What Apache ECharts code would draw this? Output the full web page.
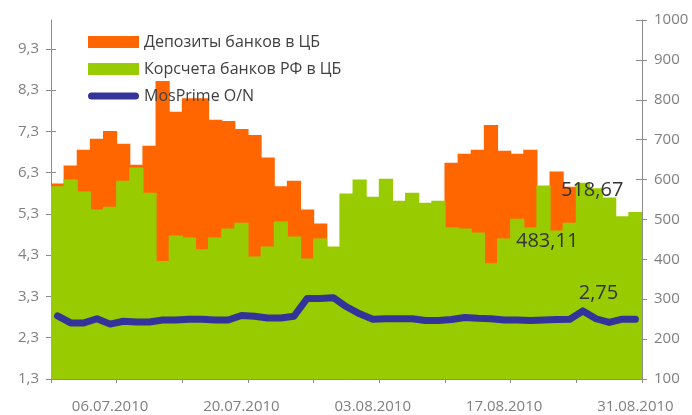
<!DOCTYPE html>
<html><head><meta charset="utf-8">
<script src="https://cdn.jsdelivr.net/npm/echarts@6/dist/echarts.min.js"></script>
<style>html,body{margin:0;padding:0;background:#fff}#c{width:692px;height:415px}</style>
</head><body><div id="c"></div>
<script>
const dates = ['30.06.2010','01.07.2010','02.07.2010','05.07.2010','06.07.2010','07.07.2010','08.07.2010','09.07.2010',
'12.07.2010','13.07.2010','14.07.2010','15.07.2010','16.07.2010','19.07.2010','20.07.2010','21.07.2010','22.07.2010','23.07.2010',
'26.07.2010','27.07.2010','28.07.2010','29.07.2010','30.07.2010','02.08.2010','03.08.2010','04.08.2010','05.08.2010','06.08.2010',
'09.08.2010','10.08.2010','11.08.2010','12.08.2010','13.08.2010','16.08.2010','17.08.2010','18.08.2010','19.08.2010','20.08.2010',
'23.08.2010','24.08.2010','25.08.2010','26.08.2010','27.08.2010','30.08.2010','31.08.2010'];
const labelledDates = ['06.07.2010','20.07.2010','03.08.2010','17.08.2010','31.08.2010'];
const deposits = [590,635,675,702,722,690,637,685,847,770,804,804,750,747,727,712,655,583,597,525,490,
395,420,450,440,460,445,455,450,470,642,665,675,737,672,665,675,520,620,582,540,520,505,495,483.11];
const korschet = [583,600,570,525,532,597,630,567,396,460,455,425,455,477,492,407,432,495,457,402,452,
432,565,600,557,602,547,567,542,547,480,477,467,390,452,502,480,585,472,492,592,578,555,508,518.67];
const mosprime = [2.83,2.66,2.66,2.76,2.63,2.70,2.68,2.68,2.73,2.73,2.75,2.75,2.73,2.73,2.84,
2.82,2.78,2.78,2.82,3.25,3.25,3.27,3.05,2.88,2.75,2.76,2.76,2.76,2.72,2.72,
2.74,2.79,2.77,2.76,2.73,2.73,2.72,2.73,2.74,2.75,2.95,2.76,2.67,2.75,2.75];
const leftTicks = [1.3,2.3,3.3,4.3,5.3,6.3,7.3,8.3,9.3];
const seriesNames = ['Депозиты банков в ЦБ','Корсчета банков РФ в ЦБ','MosPrime O/N'];

const FONT = 'Open Sans';
const AX = '#8c8c8c', LBL = '#7f7f7f';
const comma = v => String(v).replace('.', ',');
const last = dates.length - 1;

function withLastLabel(arr, lab) {
  return arr.map((v, i) => i === last ? { value: v, label: lab } : v);
}
const lblStyle = { show: true, fontFamily: FONT, fontSize: 20, color: '#333333', formatter: p => comma(p.value) };

const chart = echarts.init(document.getElementById('c'), null, { renderer: 'canvas' });
chart.setOption({
  backgroundColor: '#ffffff',
  animation: false,
  grid: { left: 51, right: 50, top: 20, bottom: 36 },
  legend: {
    orient: 'vertical', left: 88, top: 34, padding: 0, itemWidth: 51, itemHeight: 12, itemGap: 11, itemTextGap: 5,
    selectedMode: false,
    textStyle: { fontFamily: FONT, fontSize: 16, color: '#404040' },
    data: [
      { name: seriesNames[0], icon: 'rect' },
      { name: seriesNames[1], icon: 'rect' },
      { name: seriesNames[2], icon: 'path://M3.5,0 H47.5 A3.5,3.5 0 0 1 47.5,7 H3.5 A3.5,3.5 0 0 1 3.5,0 Z' }
    ]
  },
  xAxis: [
    { type: 'category', data: dates, position: 'bottom', boundaryGap: true,
      axisLine: { show: false }, axisTick: { show: false }, splitLine: { show: false },
      axisLabel: { show: true, margin: 20, fontFamily: FONT, fontSize: 15, color: LBL,
        interval: (i, v) => labelledDates.includes(v) } },
    { type: 'value', position: 'bottom', min: 0, max: dates.length, interval: 5,
      axisLine: { show: true, lineStyle: { color: AX } },
      axisTick: { show: true, length: 4, lineStyle: { color: AX } },
      splitLine: { show: false },
      axisLabel: { show: false } }
  ],
  yAxis: [
    { type: 'value', position: 'left', min: 1.3, max: 10.0, interval: 1,
      axisLine: { show: true, lineStyle: { color: AX } },
      axisTick: { show: true, length: 5, customValues: leftTicks, lineStyle: { color: AX } },
      splitLine: { show: false },
      axisLabel: { margin: 12, customValues: leftTicks, fontFamily: FONT, fontSize: 15, color: LBL, formatter: v => comma(v.toFixed(1)) } },
    { type: 'value', position: 'right', min: 100, max: 1000, interval: 100,
      axisLine: { show: true, lineStyle: { color: AX } },
      axisTick: { show: true, length: 5, lineStyle: { color: AX } },
      splitLine: { show: false },
      axisLabel: { margin: 12, fontFamily: FONT, fontSize: 15, color: LBL, formatter: v => String(v) } },
    { type: 'value', position: 'left', min: 1.3, max: 10.0, interval: 1,
      axisLine: { show: false }, splitLine: { show: false }, axisLabel: { show: false },
      axisTick: { show: true, inside: true, length: 5, customValues: leftTicks, lineStyle: { color: AX } } },
    { type: 'value', position: 'right', min: 100, max: 1000, interval: 100,
      axisLine: { show: false }, splitLine: { show: false }, axisLabel: { show: false },
      axisTick: { show: true, inside: true, length: 6, lineStyle: { color: AX } } }
  ],
  series: [
    { name: seriesNames[0], type: 'bar', xAxisIndex: 0, yAxisIndex: 1, barGap: '-100%', barWidth: 14.2,
      itemStyle: { color: '#FF6600' }, z: 2,
      data: withLastLabel(deposits, Object.assign({}, lblStyle, { position: 'top', offset: [-88, 30] })) },
    { name: seriesNames[1], type: 'bar', xAxisIndex: 0, yAxisIndex: 1, barGap: '-100%', barWidth: 14.2,
      itemStyle: { color: '#99CC00' }, z: 2,
      data: withLastLabel(korschet, Object.assign({}, lblStyle, { position: 'top', offset: [-43, -7] })) },
    { name: seriesNames[2], type: 'line', xAxisIndex: 0, yAxisIndex: 0, z: 3,
      symbol: 'circle', symbolSize: 1, showSymbol: true, showAllSymbol: true,
      itemStyle: { color: '#333399' },
      lineStyle: { color: '#333399', width: 7, cap: 'round', join: 'round' },
      data: withLastLabel(mosprime, Object.assign({}, lblStyle, { position: 'top', offset: [-37, -10] })) }
  ]
});
</script></body></html>
